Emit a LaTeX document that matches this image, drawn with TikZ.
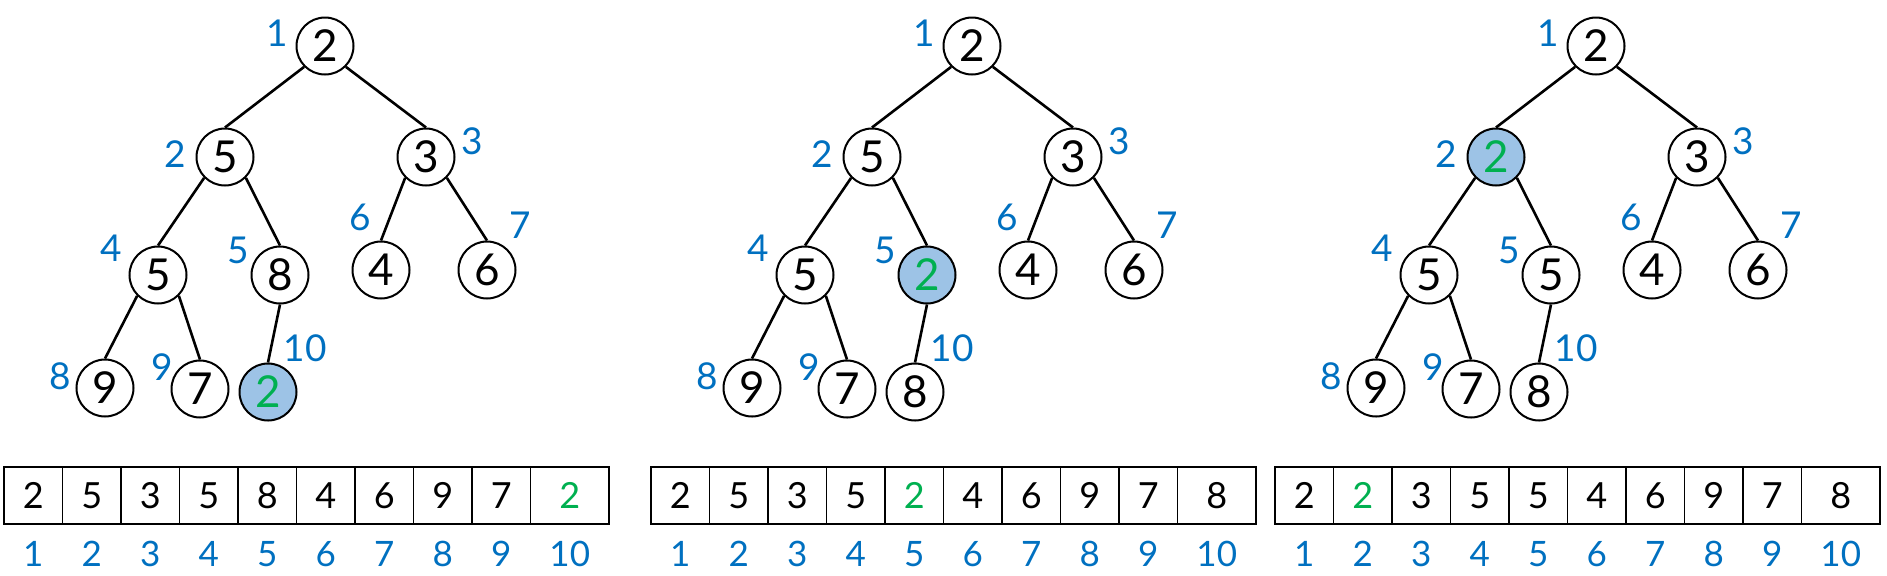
\documentclass[tikz,border=0pt]{standalone}
\usepackage{fontspec}
\setmainfont{Lato}
\definecolor{idxblue}{HTML}{0070C0}
\definecolor{hlgreen}{HTML}{00B050}
\definecolor{hlfill}{HTML}{9DC3E6}
\tikzset{
  tn/.style={circle,draw,line width=1pt,minimum size=28.5pt,inner sep=0pt,font=\fontsize{22}{22}\selectfont},
  hn/.style={tn,fill=hlfill,text=hlgreen},
  lab/.style={text=idxblue,inner sep=0pt,font=\fontsize{18.5}{18.5}\selectfont},
  treeedge/.style={line width=1.3pt},
  cell/.style={draw,line width=0.9pt,minimum height=28.5pt,minimum width=29.25pt,inner sep=0pt,font=\fontsize{18}{18}\selectfont},
  ix/.style={text=idxblue,inner sep=0pt,font=\fontsize{17.5}{17.5}\selectfont}
}
\newcommand\heappanel[4]{%
\begin{scope}[shift={(#2,0)}]
\foreach \px/\py/\lx/\ly [count=\i] in {0/46/-48/33, -100/157/-150/154, 101/157/147/141, -167/275/-214/248, -45/275/-87/250, 56/270/35/217, 162/270/195/225, -220/388/-265/376, -125/389/-163/367, -57/392/-20/348}{
  \pgfmathtruncatemacro\v{{#3}[\i-1]}
  \ifnum\i=#4\relax\def\st{hn}\def\tc{hlgreen}\else\def\st{tn}\def\tc{black}\fi
  \node[\st] (#1n\i) at (\px,\py) {\v};
  \node[lab] (#1l\i) at (\lx,\ly) {\i};
  \ifnum\i<10\relax
    \node[cell,text=\tc] (#1c\i) at ({-321+58.5*(\i-0.5)},495.5) {\v};
    \node[ix] (#1x\i) at ({-321+58.5*(\i-0.5)},554) {\i};
  \else
    \node[cell,text=\tc,minimum width=39.25pt] (#1c\i) at (244.75,495.5) {\v};
    \node[ix] (#1x\i) at (244.75,554) {\i};
  \fi
}
\foreach \a/\s/\b in {1/south west/2,1/south east/3,2/south west/4,2/south east/5,3/south west/6,3/south east/7,4/south west/8,4/south east/9,5/south/10}
  \draw[treeedge] (#1n\a.\s) -- (#1n\b.north);
\end{scope}}

\begin{document}
\begin{tikzpicture}[x=0.5pt,y=-0.5pt]
\useasboundingbox (0,0) rectangle (1887,575);
\heappanel{pa}{325}{2,5,3,5,8,4,6,9,7,2}{10}
\heappanel{pb}{972}{2,5,3,5,2,4,6,9,7,8}{5}
\heappanel{pc}{1596}{2,2,3,5,5,4,6,9,7,8}{2}
\end{tikzpicture}
\end{document}
